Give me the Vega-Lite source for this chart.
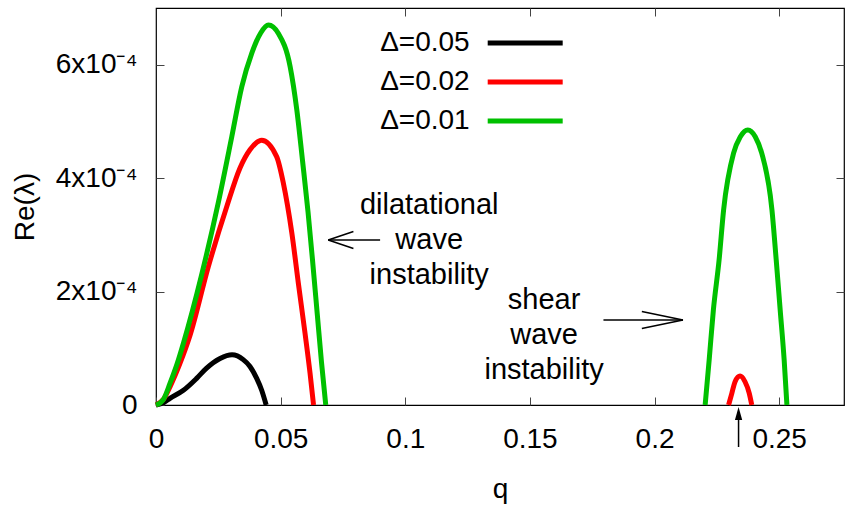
{
  "$schema": "https://vega.github.io/schema/vega-lite/v6.json",
  "width": 688,
  "height": 397,
  "autosize": {"type": "none"},
  "padding": {"left": 156, "top": 8, "right": 2, "bottom": 102},
  "background": "white",
  "config": {
    "font": "Liberation Sans",
    "view": {"stroke": "#000000", "strokeWidth": 1.2},
    "axis": {
      "grid": false,
      "domain": false,
      "labelFont": "Liberation Sans",
      "titleFont": "Liberation Sans",
      "labelFontSize": 28,
      "titleFontSize": 28,
      "titleFontWeight": "normal",
      "labelColor": "#000000",
      "titleColor": "#000000",
      "tickColor": "#444444",
      "tickSize": -8,
      "tickWidth": 1,
      "labelFlush": false
    },
    "text": {"font": "Liberation Sans", "fontSize": 29, "color": "#000000"}
  },
  "resolve": {"axis": {"x": "independent", "y": "independent"}},
  "layer": [
    {
      "data": {
        "values": [
          {"d": "Δ=0.05", "b": "dil", "q": 0, "v": 0},
          {"d": "Δ=0.05", "b": "dil", "q": 0.003, "v": 0.4e-5},
          {"d": "Δ=0.05", "b": "dil", "q": 0.0056, "v": 1.18e-5},
          {"d": "Δ=0.05", "b": "dil", "q": 0.011, "v": 2.6e-5},
          {"d": "Δ=0.05", "b": "dil", "q": 0.0163, "v": 4.7e-5},
          {"d": "Δ=0.05", "b": "dil", "q": 0.0203, "v": 6.5e-5},
          {"d": "Δ=0.05", "b": "dil", "q": 0.0257, "v": 8.2e-5},
          {"d": "Δ=0.05", "b": "dil", "q": 0.0305, "v": 8.85e-5},
          {"d": "Δ=0.05", "b": "dil", "q": 0.035, "v": 8.0e-5},
          {"d": "Δ=0.05", "b": "dil", "q": 0.0377, "v": 6.8e-5},
          {"d": "Δ=0.05", "b": "dil", "q": 0.0404, "v": 4.7e-5},
          {"d": "Δ=0.05", "b": "dil", "q": 0.0424, "v": 2.6e-5},
          {"d": "Δ=0.05", "b": "dil", "q": 0.0442, "v": 0},
          {"d": "Δ=0.02", "b": "dil", "q": 0, "v": 0},
          {"d": "Δ=0.02", "b": "dil", "q": 0.003, "v": 1.0e-5},
          {"d": "Δ=0.02", "b": "dil", "q": 0.0056, "v": 3.2e-5},
          {"d": "Δ=0.02", "b": "dil", "q": 0.0095, "v": 7.2e-5},
          {"d": "Δ=0.02", "b": "dil", "q": 0.0136, "v": 12.2e-5},
          {"d": "Δ=0.02", "b": "dil", "q": 0.021, "v": 24.4e-5},
          {"d": "Δ=0.02", "b": "dil", "q": 0.0284, "v": 35.0e-5},
          {"d": "Δ=0.02", "b": "dil", "q": 0.0337, "v": 41.8e-5},
          {"d": "Δ=0.02", "b": "dil", "q": 0.0377, "v": 45.0e-5},
          {"d": "Δ=0.02", "b": "dil", "q": 0.0424, "v": 46.7e-5},
          {"d": "Δ=0.02", "b": "dil", "q": 0.0484, "v": 43.8e-5},
          {"d": "Δ=0.02", "b": "dil", "q": 0.0511, "v": 39.1e-5},
          {"d": "Δ=0.02", "b": "dil", "q": 0.0545, "v": 30.3e-5},
          {"d": "Δ=0.02", "b": "dil", "q": 0.0571, "v": 21.5e-5},
          {"d": "Δ=0.02", "b": "dil", "q": 0.0598, "v": 12.6e-5},
          {"d": "Δ=0.02", "b": "dil", "q": 0.0618, "v": 5.6e-5},
          {"d": "Δ=0.02", "b": "dil", "q": 0.0632, "v": 0},
          {"d": "Δ=0.02", "b": "shr", "q": 0.2297, "v": 0},
          {"d": "Δ=0.02", "b": "shr", "q": 0.231, "v": 2.06e-5},
          {"d": "Δ=0.02", "b": "shr", "q": 0.2323, "v": 4.1e-5},
          {"d": "Δ=0.02", "b": "shr", "q": 0.2343, "v": 5.1e-5},
          {"d": "Δ=0.02", "b": "shr", "q": 0.2363, "v": 4.1e-5},
          {"d": "Δ=0.02", "b": "shr", "q": 0.238, "v": 2.06e-5},
          {"d": "Δ=0.02", "b": "shr", "q": 0.239, "v": 0},
          {"d": "Δ=0.01", "b": "dil", "q": 0, "v": 0},
          {"d": "Δ=0.01", "b": "dil", "q": 0.003, "v": 1.0e-5},
          {"d": "Δ=0.01", "b": "dil", "q": 0.0056, "v": 3.8e-5},
          {"d": "Δ=0.01", "b": "dil", "q": 0.0085, "v": 7.3e-5},
          {"d": "Δ=0.01", "b": "dil", "q": 0.011, "v": 10.9e-5},
          {"d": "Δ=0.01", "b": "dil", "q": 0.0183, "v": 22.95e-5},
          {"d": "Δ=0.01", "b": "dil", "q": 0.025, "v": 35.7e-5},
          {"d": "Δ=0.01", "b": "dil", "q": 0.0304, "v": 47.3e-5},
          {"d": "Δ=0.01", "b": "dil", "q": 0.0344, "v": 56.1e-5},
          {"d": "Δ=0.01", "b": "dil", "q": 0.0384, "v": 62.0e-5},
          {"d": "Δ=0.01", "b": "dil", "q": 0.042, "v": 65.6e-5},
          {"d": "Δ=0.01", "b": "dil", "q": 0.0451, "v": 67.0e-5},
          {"d": "Δ=0.01", "b": "dil", "q": 0.0491, "v": 65.5e-5},
          {"d": "Δ=0.01", "b": "dil", "q": 0.0538, "v": 59.7e-5},
          {"d": "Δ=0.01", "b": "dil", "q": 0.0565, "v": 52.0e-5},
          {"d": "Δ=0.01", "b": "dil", "q": 0.0588, "v": 43.0e-5},
          {"d": "Δ=0.01", "b": "dil", "q": 0.061, "v": 34.0e-5},
          {"d": "Δ=0.01", "b": "dil", "q": 0.0629, "v": 25.0e-5},
          {"d": "Δ=0.01", "b": "dil", "q": 0.0647, "v": 16.0e-5},
          {"d": "Δ=0.01", "b": "dil", "q": 0.0664, "v": 7.5e-5},
          {"d": "Δ=0.01", "b": "dil", "q": 0.0681, "v": 0},
          {"d": "Δ=0.01", "b": "shr", "q": 0.2203, "v": 0},
          {"d": "Δ=0.01", "b": "shr", "q": 0.2219, "v": 7.9e-5},
          {"d": "Δ=0.01", "b": "shr", "q": 0.2236, "v": 16.75e-5},
          {"d": "Δ=0.01", "b": "shr", "q": 0.2259, "v": 25.6e-5},
          {"d": "Δ=0.01", "b": "shr", "q": 0.2277, "v": 34.4e-5},
          {"d": "Δ=0.01", "b": "shr", "q": 0.2317, "v": 44.4e-5},
          {"d": "Δ=0.01", "b": "shr", "q": 0.2344, "v": 47.3e-5},
          {"d": "Δ=0.01", "b": "shr", "q": 0.2374, "v": 48.5e-5},
          {"d": "Δ=0.01", "b": "shr", "q": 0.2404, "v": 47.3e-5},
          {"d": "Δ=0.01", "b": "shr", "q": 0.243, "v": 44.4e-5},
          {"d": "Δ=0.01", "b": "shr", "q": 0.2471, "v": 34.4e-5},
          {"d": "Δ=0.01", "b": "shr", "q": 0.2488, "v": 25.6e-5},
          {"d": "Δ=0.01", "b": "shr", "q": 0.2504, "v": 16.75e-5},
          {"d": "Δ=0.01", "b": "shr", "q": 0.252, "v": 7.9e-5},
          {"d": "Δ=0.01", "b": "shr", "q": 0.2531, "v": 0}
        ]
      },
      "mark": {"type": "line", "strokeWidth": 5, "interpolate": "monotone"},
      "encoding": {
        "x": {
          "field": "q", "type": "quantitative",
          "scale": {"domain": [0, 0.276], "nice": false, "zero": false},
          "axis": {
            "orient": "bottom",
            "values": [0, 0.05, 0.1, 0.15, 0.2, 0.25],
            "format": ".2~f",
            "labelPadding": 28,
            "title": "q",
            "titleX": 344,
            "titleY": 92,
            "titleBaseline": "alphabetic"
          }
        },
        "y": {
          "field": "v", "type": "quantitative",
          "scale": {"domain": [0, 0.0007], "nice": false},
          "axis": {
            "orient": "left",
            "values": [0, 0.0002, 0.0004, 0.0006],
            "labelExpr": "datum.value == 0 ? '0' : round(datum.value * 10000) + 'x10⁻⁴'",
            "labelPadding": 27,
            "title": "Re(λ)",
            "titleAngle": -90,
            "titleX": -123,
            "titleY": 198.5,
            "titleAlign": "center",
            "titleBaseline": "alphabetic"
          }
        },
        "color": {
          "field": "d", "type": "nominal",
          "scale": {"domain": ["Δ=0.05", "Δ=0.02", "Δ=0.01"], "range": ["#000000", "#ff0000", "#00c000"]},
          "legend": {
            "orient": "none",
            "legendX": 317.7,
            "legendY": 21,
            "title": null,
            "padding": 0,
            "symbolType": "M0,0H10",
            "symbolSize": 225,
            "symbolStrokeWidth": 5,
            "labelFont": "Liberation Sans",
            "labelFontSize": 28,
            "labelColor": "#000000",
            "labelAlign": "right",
            "labelOffset": -32,
            "labelLimit": 0,
            "rowPadding": 11
          }
        },
        "detail": {"field": "b", "type": "nominal"}
      }
    },
    {
      "data": {"values": [{}]},
      "mark": {"type": "text", "align": "center", "baseline": "middle", "lineHeight": 35, "text": ["dilatational", "wave", "instability"]},
      "encoding": {
        "x": {"datum": 0.1096, "type": "quantitative", "axis": {"orient": "top", "labels": false, "title": null, "values": [0.05, 0.1, 0.15, 0.2, 0.25]}},
        "y": {"datum": 0.0003526, "type": "quantitative", "axis": {"orient": "right", "labels": false, "title": null, "values": [0.0002, 0.0004, 0.0006]}}
      }
    },
    {
      "data": {"values": [{}]},
      "mark": {"type": "text", "align": "center", "baseline": "middle", "lineHeight": 35, "text": ["shear", "wave", "instability"]},
      "encoding": {
        "x": {"datum": 0.1557, "type": "quantitative", "axis": null},
        "y": {"datum": 0.0001851, "type": "quantitative", "axis": null}
      }
    },
    {
      "data": {"values": [{}]},
      "mark": {"type": "rule", "strokeWidth": 1.5, "color": "#000000"},
      "encoding": {
        "x": {"datum": 0.0691, "type": "quantitative", "axis": null},
        "x2": {"datum": 0.0899},
        "y": {"datum": 0.0002909, "type": "quantitative", "axis": null},
        "y2": {"datum": 0.0002909}
      }
    },
    {
      "data": {"values": [{}]},
      "mark": {"type": "rule", "strokeWidth": 1.5, "color": "#000000"},
      "encoding": {
        "x": {"datum": 0.0691, "type": "quantitative", "axis": null},
        "x2": {"datum": 0.0792},
        "y": {"datum": 0.0002909, "type": "quantitative", "axis": null},
        "y2": {"datum": 0.0003059}
      }
    },
    {
      "data": {"values": [{}]},
      "mark": {"type": "rule", "strokeWidth": 1.5, "color": "#000000"},
      "encoding": {
        "x": {"datum": 0.0691, "type": "quantitative", "axis": null},
        "x2": {"datum": 0.0792},
        "y": {"datum": 0.0002909, "type": "quantitative", "axis": null},
        "y2": {"datum": 0.0002759}
      }
    },
    {
      "data": {"values": [{}]},
      "mark": {"type": "rule", "strokeWidth": 1.5, "color": "#000000"},
      "encoding": {
        "x": {"datum": 0.1795, "type": "quantitative", "axis": null},
        "x2": {"datum": 0.2114},
        "y": {"datum": 0.0001499, "type": "quantitative", "axis": null},
        "y2": {"datum": 0.0001499}
      }
    },
    {
      "data": {"values": [{}]},
      "mark": {"type": "rule", "strokeWidth": 1.5, "color": "#000000"},
      "encoding": {
        "x": {"datum": 0.2114, "type": "quantitative", "axis": null},
        "x2": {"datum": 0.1949},
        "y": {"datum": 0.0001499, "type": "quantitative", "axis": null},
        "y2": {"datum": 0.0001649}
      }
    },
    {
      "data": {"values": [{}]},
      "mark": {"type": "rule", "strokeWidth": 1.5, "color": "#000000"},
      "encoding": {
        "x": {"datum": 0.2114, "type": "quantitative", "axis": null},
        "x2": {"datum": 0.1949},
        "y": {"datum": 0.0001499, "type": "quantitative", "axis": null},
        "y2": {"datum": 0.0001349}
      }
    },
    {
      "data": {"values": [{}]},
      "mark": {"type": "rule", "strokeWidth": 1.5, "color": "#000000"},
      "encoding": {
        "x": {"datum": 0.2337, "type": "quantitative", "axis": null},
        "y": {"datum": -0.00007405, "type": "quantitative", "axis": null},
        "y2": {"datum": -0.000015}
      }
    },
    {
      "data": {"values": [{}]},
      "mark": {"type": "point", "shape": "M0,-1L0.56,1L-0.56,1Z", "filled": true, "size": 169, "color": "#000000", "opacity": 1, "strokeWidth": 0},
      "encoding": {
        "x": {"datum": 0.2337, "type": "quantitative", "axis": null},
        "y": {"datum": -0.000015, "type": "quantitative", "axis": null}
      }
    }
  ]
}
